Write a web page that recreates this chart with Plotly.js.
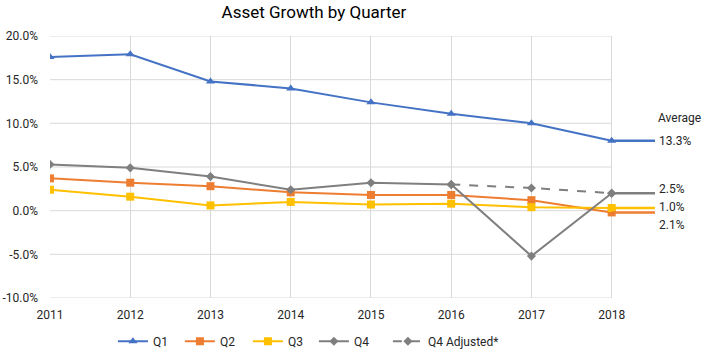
<!DOCTYPE html>
<html><head><meta charset="utf-8">
<script src="https://cdn.plot.ly/plotly-3.0.1.min.js"></script>
<style>html,body{margin:0;padding:0;background:#fff}#c{width:703px;height:353px}</style>
</head><body><div id="c"></div>
<script>
const years = [2011, 2012, 2013, 2014, 2015, 2016, 2017, 2018];
const q1 = [17.6, 17.9, 14.8, 14.0, 12.4, 11.1, 10.0, 8.0];
const q2 = [3.7, 3.2, 2.8, 2.1, 1.8, 1.8, 1.2, -0.2];
const q3 = [2.4, 1.6, 0.6, 1.0, 0.7, 0.8, 0.4, 0.3];
const q4 = [5.3, 4.9, 3.9, 2.4, 3.2, 3.0, -5.2, 2.0];
const q4AdjYears = [2016, 2017, 2018];
const q4Adj = [3.0, 2.6, 2.0];
const averages = {Q1: 13.3, Q2: 2.1, Q3: 1.0, Q4: 2.5};
const yTicks = [-10, -5, 0, 5, 10, 15, 20];

const XEND = 2018.54;
const C = {Q1:'#4472C4', Q2:'#ED7D31', Q3:'#FFC000', Q4:'#7F7F7F'};
const last = a => a[a.length-1];

const traces = [
  {name:'Q1', x:years, y:q1, mode:'lines+markers', legendwidth:22, line:{color:C.Q1,width:2}, marker:{symbol:'triangle-up',size:8,color:C.Q1}},
  {name:'Q2', x:years, y:q2, mode:'lines+markers', legendwidth:23, line:{color:C.Q2,width:2}, marker:{symbol:'square',size:8,color:C.Q2}},
  {name:'Q3', x:years, y:q3, mode:'lines+markers', legendwidth:21, line:{color:C.Q3,width:2}, marker:{symbol:'square',size:8,color:C.Q3}},
  {name:'Q4', x:years, y:q4, mode:'lines+markers', legendwidth:29, line:{color:C.Q4,width:2}, marker:{symbol:'diamond',size:7,color:C.Q4}},
  {name:'Q4 Adjusted*', x:q4AdjYears, y:q4Adj, mode:'lines+markers', line:{color:C.Q4,width:2,dash:'dash'}, marker:{symbol:'diamond',size:7,color:C.Q4}}
];
const series = {Q1:q1, Q2:q2, Q3:q3, Q4:q4};
['Q1','Q2','Q3','Q4'].forEach(k => {
  traces.push({x:[last(years), XEND], y:[last(series[k]), last(series[k])], mode:'lines', line:{color:C[k],width:2.5}, showlegend:false, hoverinfo:'skip'});
});

const shapes = yTicks.map(v => ({type:'line', xref:'x', yref:'y', x0:years[0], x1:last(years), y0:v, y1:v, line:{color:'#d9d9d9', width:1}, layer:'below'}));

const labelShift = {Q1:0, Q4:4, Q3:1, Q2:-13};
const annotations = ['Q1','Q4','Q3','Q2'].map(k => ({
  x:XEND, y:last(series[k]), xref:'x', yref:'y', xanchor:'left', yanchor:'middle', xshift:2, yshift:labelShift[k],
  text: averages[k].toFixed(1)+'%', showarrow:false, font:{size:12,color:'#262626'}
}));
annotations.push({xref:'paper', yref:'paper', x:1.041, y:0.687, xanchor:'center', yanchor:'middle', text:'Average', showarrow:false, font:{size:12,color:'#262626'}});

const layout = {
  width:703, height:353,
  margin:{l:50, r:48, t:36, b:55, autoexpand:false},
  paper_bgcolor:'#fff', plot_bgcolor:'#fff',
  font:{family:'Roboto, sans-serif', size:12, color:'#262626'},
  title:{text:'Asset Growth by Quarter', font:{size:17, color:'#000'}, x:314/703, xanchor:'center', xref:'container', y:0.965, yanchor:'middle'},
  xaxis:{range:[years[0], XEND], tickvals:years, ticktext:years.map(String), showgrid:true, gridcolor:'#d9d9d9', zeroline:false, showline:false, ticks:'', tickfont:{size:12,color:'#262626'}, ticklabelstandoff:8, fixedrange:true},
  yaxis:{range:[yTicks[0], last(yTicks)], tickvals:yTicks, ticktext:yTicks.map(v=>v.toFixed(1)+'%'), showgrid:false, zeroline:false, showline:false, ticks:'', tickfont:{size:12,color:'#262626'}, ticklabelstandoff:11},
  showlegend:true,
  legend:{orientation:'h', x:0.104, xanchor:'left', y:-0.11, yanchor:'top', font:{size:12,color:'#262626'}},
  shapes:shapes,
  annotations:annotations
};
Plotly.newPlot('c', traces, layout, {displayModeBar:false, staticPlot:true});
</script></body></html>
